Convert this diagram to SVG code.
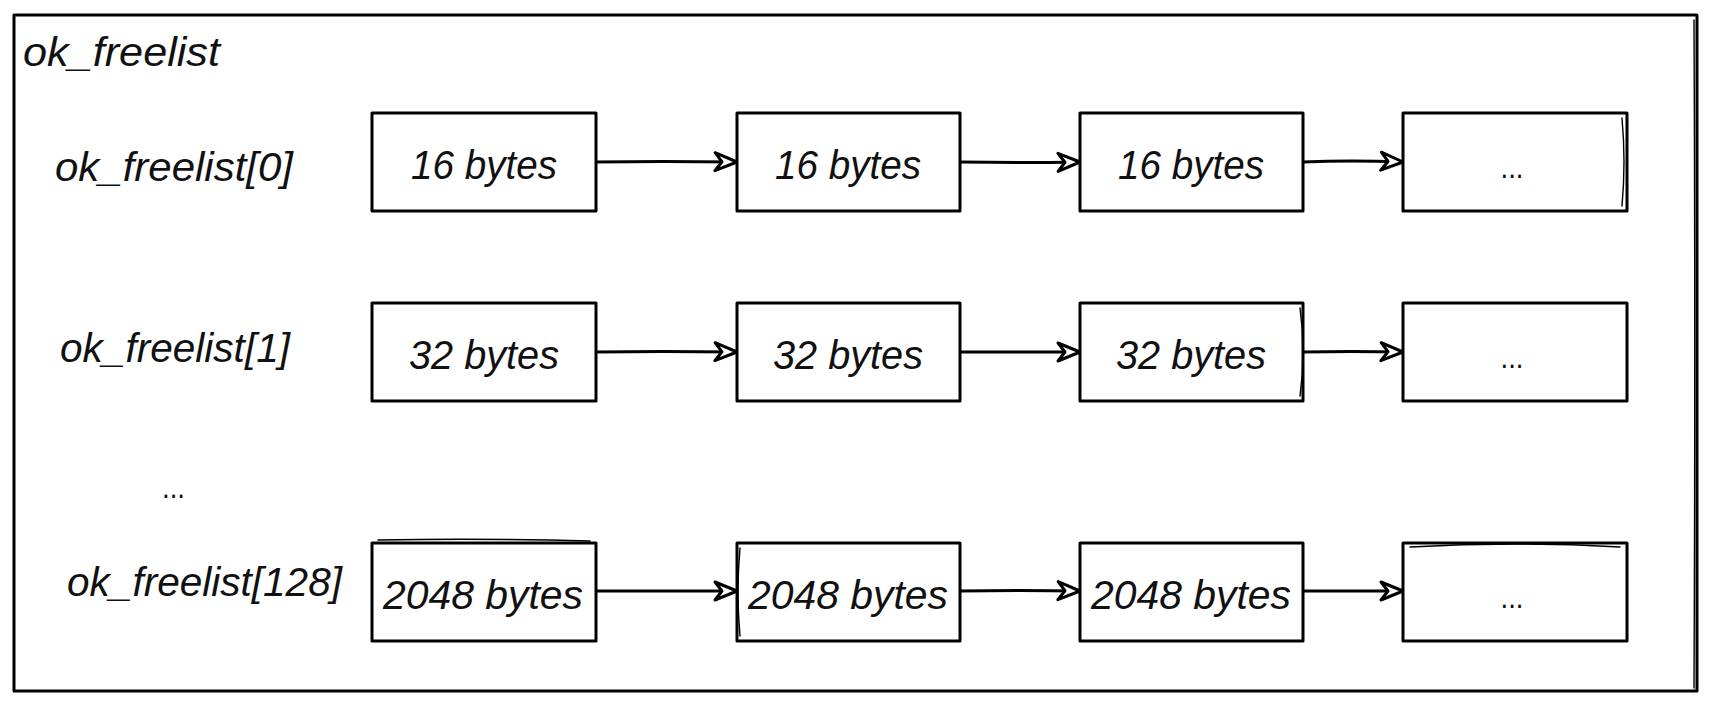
<svg xmlns="http://www.w3.org/2000/svg" width="1712" height="708" viewBox="0 0 1712 708">
  <style>
    .bg { fill: #ffffff; }
    .frame { fill: none; stroke: #000; stroke-width: 3; stroke-linejoin: round; }
    .sk { fill: none; stroke: #000; stroke-width: 1.4; stroke-linecap: round; }
    .box { fill: #ffffff; stroke: #000; stroke-width: 3; stroke-linejoin: round; }
    .t { font-family: "Liberation Sans", Arial, sans-serif; font-style: italic; font-size: 40px; fill: #111; }
    .c { text-anchor: middle; }
    .dots { font-family: "Liberation Sans", Arial, sans-serif; font-size: 32px; fill: #111; }
    .conn { fill: none; stroke: #000; stroke-width: 3; stroke-linecap: round; marker-end: url(#ah); }
  </style>
  <defs>
    <marker id="ah" viewBox="-26 -12 28 24" refX="0" refY="0" markerWidth="28" markerHeight="24" orient="auto" markerUnits="userSpaceOnUse">
      <path d="M-22,-9 L0,0 L-22,9 L-15,0 Z" fill="#fff" stroke="#000" stroke-width="3" stroke-linejoin="round"/>
    </marker>
  </defs>
  <rect class="bg" x="0" y="0" width="1712" height="708"/>

  <g id="container">
    <rect class="frame" x="14" y="15" width="1683" height="676"/>
    <path class="sk" d="M1694,20 Q1695.5,350 1694,688"/>
    <text class="t" x="23" y="66" textLength="197" lengthAdjust="spacingAndGlyphs">ok_freelist</text>
  </g>

  <g id="labels">
    <text class="t" x="55" y="181" textLength="238" lengthAdjust="spacingAndGlyphs">ok_freelist[0]</text>
    <text class="t" x="60" y="362" textLength="230" lengthAdjust="spacingAndGlyphs">ok_freelist[1]</text>
    <text class="dots" x="162" y="498" textLength="23" lengthAdjust="spacingAndGlyphs">...</text>
    <text class="t" x="67" y="596" textLength="275" lengthAdjust="spacingAndGlyphs">ok_freelist[128]</text>
  </g>

  <g id="connectors">
    <path class="conn" d="M596,162 Q660,161 737,162"/>
    <path class="conn" d="M960,162 Q1020,163 1080,162"/>
    <path class="conn" d="M1303,162 Q1350,160 1403,162"/>
    <path class="conn" d="M596,352 Q660,351 737,352"/>
    <path class="conn" d="M960,352 Q1020,352 1080,352"/>
    <path class="conn" d="M1303,352 Q1350,351 1403,352"/>
    <path class="conn" d="M596,591 Q660,591 737,591"/>
    <path class="conn" d="M960,591 Q1020,590 1080,591"/>
    <path class="conn" d="M1303,591 Q1350,591 1403,591"/>
  </g>

  <g id="n0a"><rect class="box" x="372" y="113" width="224" height="98"/><text class="t c" x="484" y="179" textLength="146" lengthAdjust="spacingAndGlyphs">16 bytes</text></g>
  <g id="n0b"><rect class="box" x="737" y="113" width="223" height="98"/><text class="t c" x="848" y="179" textLength="146" lengthAdjust="spacingAndGlyphs">16 bytes</text></g>
  <g id="n0c"><rect class="box" x="1080" y="113" width="223" height="98"/><text class="t c" x="1191" y="179" textLength="146" lengthAdjust="spacingAndGlyphs">16 bytes</text></g>
  <g id="n0d"><rect class="box" x="1403" y="113" width="224" height="98"/><path class="sk" d="M1622,118 Q1626,162 1622,206"/><text class="dots c" x="1512" y="178" textLength="23" lengthAdjust="spacingAndGlyphs">...</text></g>

  <g id="n1a"><rect class="box" x="372" y="303" width="224" height="98"/><text class="t c" x="484" y="369" textLength="150" lengthAdjust="spacingAndGlyphs">32 bytes</text></g>
  <g id="n1b"><rect class="box" x="737" y="303" width="223" height="98"/><text class="t c" x="848" y="369" textLength="150" lengthAdjust="spacingAndGlyphs">32 bytes</text></g>
  <g id="n1c"><rect class="box" x="1080" y="303" width="223" height="98"/><path class="sk" d="M1300,308 Q1306,352 1300,396"/><text class="t c" x="1191" y="369" textLength="150" lengthAdjust="spacingAndGlyphs">32 bytes</text></g>
  <g id="n1d"><rect class="box" x="1403" y="303" width="224" height="98"/><text class="dots c" x="1512" y="368" textLength="23" lengthAdjust="spacingAndGlyphs">...</text></g>

  <g id="n2a"><rect class="box" x="372" y="543" width="224" height="98"/><path class="sk" d="M378,540 Q480,538 590,541"/><text class="t c" x="483" y="609" textLength="200" lengthAdjust="spacingAndGlyphs">2048 bytes</text></g>
  <g id="n2b"><rect class="box" x="737" y="543" width="223" height="98"/><path class="sk" d="M740,548 Q736,592 740,636"/><text class="t c" x="848" y="609" textLength="200" lengthAdjust="spacingAndGlyphs">2048 bytes</text></g>
  <g id="n2c"><rect class="box" x="1080" y="543" width="223" height="98"/><text class="t c" x="1191" y="609" textLength="200" lengthAdjust="spacingAndGlyphs">2048 bytes</text></g>
  <g id="n2d"><rect class="box" x="1403" y="543" width="224" height="98"/><path class="sk" d="M1410,547 Q1515,541 1620,547"/><text class="dots c" x="1512" y="608" textLength="23" lengthAdjust="spacingAndGlyphs">...</text></g>
</svg>
